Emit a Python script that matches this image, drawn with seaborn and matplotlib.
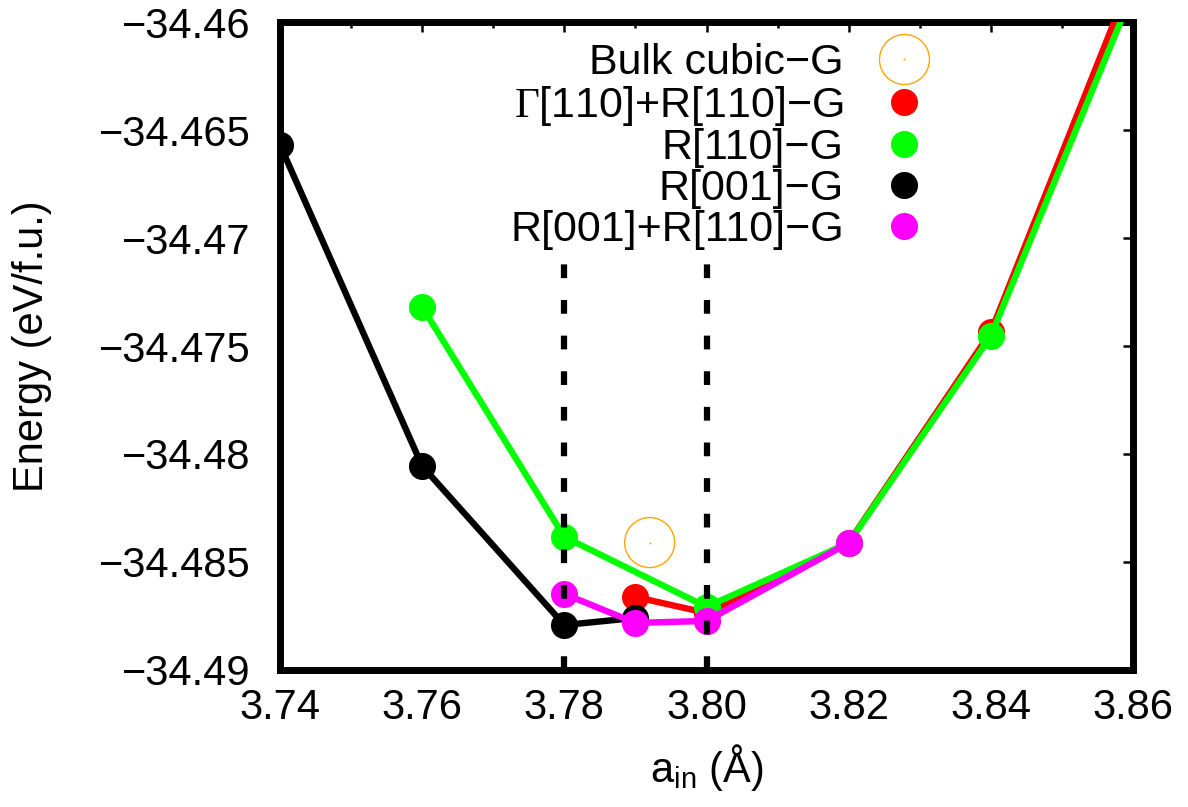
import numpy as np
import pandas as pd
import matplotlib.pyplot as plt
import seaborn as sns
from matplotlib.lines import Line2D
from matplotlib.ticker import MultipleLocator, FuncFormatter

# lattice parameter a_in (Angstrom) and energy (eV/f.u.) for each configuration
a_bulk = [3.792]
e_bulk = [-34.4841]

a_gamma_r110 = [3.79, 3.80, 3.82, 3.84, 3.86]
e_gamma_r110 = [-34.48662, -34.48736, -34.48410, -34.47435, -34.45780]

a_r110 = [3.76, 3.78, 3.80, 3.82, 3.84, 3.86]
e_r110 = [-34.47319, -34.48384, -34.48708, -34.48412, -34.47454, -34.45860]

a_r001 = [3.74, 3.76, 3.78, 3.79]
e_r001 = [-34.46569, -34.48056, -34.48792, -34.48759]

a_r001_r110 = [3.78, 3.79, 3.80, 3.82]
e_r001_r110 = [-34.48648, -34.48782, -34.48773, -34.48412]

labels = ['Bulk cubic−G', r'$\Gamma$[110]+R[110]−G', 'R[110]−G', 'R[001]−G', 'R[001]+R[110]−G']
colors = ['#ffa500', '#ff0000', '#00ff00', '#000000', '#ff00ff']

# dashed guide lines
guide_x = [3.78, 3.80]
guide_top = -34.4705

sns.set_style('white')
plt.rcParams['font.family'] = ['Liberation Sans', 'DejaVu Sans']
plt.rcParams['mathtext.fontset'] = 'custom'
plt.rcParams['mathtext.rm'] = 'Liberation Serif'
plt.rcParams['mathtext.sf'] = 'Liberation Sans'
plt.rcParams['text.color'] = 'black'
plt.rcParams['axes.labelcolor'] = 'black'
plt.rcParams['xtick.color'] = 'black'
plt.rcParams['ytick.color'] = 'black'

fig, ax = plt.subplots(figsize=(11.88, 8.07), dpi=100)
fig.subplots_adjust(left=0.2357, right=0.9537, top=0.9727, bottom=0.1698)

series = [
    (a_gamma_r110, e_gamma_r110, colors[1]),
    (a_r110, e_r110, colors[2]),
    (a_r001, e_r001, colors[3]),
    (a_r001_r110, e_r001_r110, colors[4]),
]
for a, e, c in series:
    df = pd.DataFrame({'a': a, 'E': e})
    sns.lineplot(data=df, x='a', y='E', ax=ax, color=c, lw=4.6, marker='o',
                 markersize=19.5, markeredgewidth=0, sort=False, errorbar=None, zorder=3)

# bulk point: open circle with tiny centre dot
df_bulk = pd.DataFrame({'a': a_bulk, 'E': e_bulk})
sns.scatterplot(data=df_bulk, x='a', y='E', ax=ax, s=36**2, facecolor='none',
                edgecolor=colors[0], linewidth=1, zorder=4)
sns.scatterplot(data=df_bulk, x='a', y='E', ax=ax, s=2, color=colors[0], linewidth=0, zorder=4)

ax.vlines(guide_x, -34.49, guide_top, colors='black', lw=4.5,
          linestyles=(0, (2.2, 3.5)), zorder=5)

ax.set_xlim(3.74, 3.86)
ax.set_ylim(-34.49, -34.46)
ax.set_xticks(np.arange(3.74, 3.8601, 0.02))
ax.xaxis.set_minor_locator(MultipleLocator(0.01))
ax.set_yticks(np.linspace(-34.49, -34.46, 7))
ax.xaxis.set_major_formatter(FuncFormatter(lambda v, p: '%.2f' % v))
ax.yaxis.set_major_formatter(FuncFormatter(lambda v, p: ('%g' % v).replace('-', '−')))

ax.tick_params(which='both', direction='in', top=True, right=True, width=1.8, labelsize=30)
ax.tick_params(which='major', length=7)
ax.tick_params(which='minor', length=4.5)
ax.tick_params(axis='x', pad=13)
ax.tick_params(axis='y', pad=21)
for s in ax.spines.values():
    s.set_linewidth(5)
    s.set_color('black')

ax.set_xlabel(r'a$_{\mathsf{in}}$ (Å)', fontsize=30, labelpad=10)
ax.set_ylabel('Energy (eV/f.u.)', fontsize=30, labelpad=34)

h_bulk = (Line2D([], [], ls='none', marker='o', ms=36, mfc='none', mec=colors[0], mew=1),
          Line2D([], [], ls='none', marker='o', ms=1.5, mfc=colors[0], mew=0))
handles = [h_bulk] + [Line2D([], [], ls='none', marker='o', ms=19.5, color=c, mew=0)
                      for c in colors[1:]]
ax.legend(handles, labels, markerfirst=False, frameon=False, fontsize=31,
          loc='upper right', bbox_to_anchor=(0.762, 0.968), labelspacing=0.02,
          handlelength=1.2, handletextpad=0.8, borderpad=0, borderaxespad=0)

plt.savefig('out.png', dpi=100)
